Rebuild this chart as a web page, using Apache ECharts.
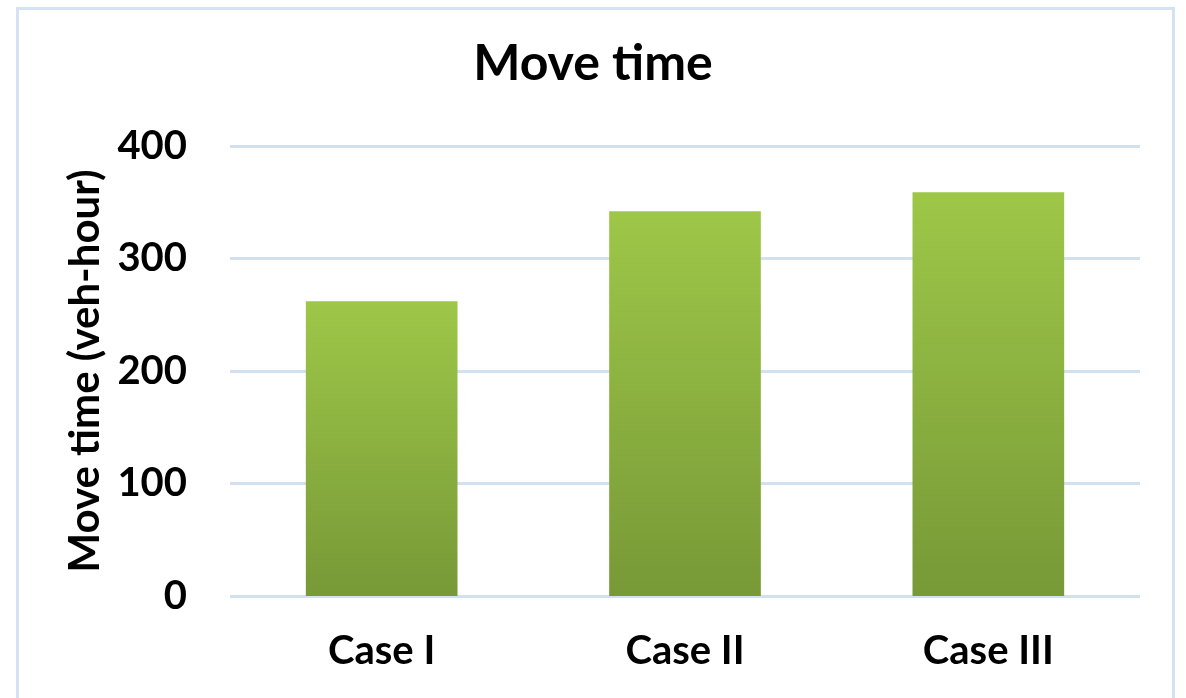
<!DOCTYPE html>
<html>
<head>
<meta charset="utf-8">
<script src="https://cdn.jsdelivr.net/npm/echarts@6/dist/echarts.min.js"></script>
<style>
html,body{margin:0;padding:0;background:#fff;}
#chart{width:1186px;height:698px;}
</style>
</head>
<body>
<div id="chart"></div>
<script>
const categories = ['Case I', 'Case II', 'Case III'];
const moveTime = [262, 342, 359];
const yTicks = [0, 100, 200, 300, 400];

const FONT = 'Lato';
const chart = echarts.init(document.getElementById('chart'));
chart.setOption({
  backgroundColor: '#ffffff',
  animation: false,
  graphic: [{
    type: 'rect',
    shape: { x: 17.5, y: 8.5, width: 1156, height: 720 },
    style: { fill: 'none', stroke: '#d5e2f3', lineWidth: 3 },
    silent: true
  }],
  title: {
    text: 'Move time',
    left: 'center',
    top: 34,
    textStyle: { fontFamily: FONT, fontWeight: 'bold', fontSize: 50, color: '#000' }
  },
  grid: { left: 230, right: 46, top: 146, bottom: 102, containLabel: false },
  xAxis: {
    type: 'category',
    data: categories,
    axisLine: { show: false },
    axisTick: { show: false },
    axisLabel: { fontFamily: FONT, fontWeight: 'bold', fontSize: 40, color: '#000', margin: 35 }
  },
  yAxis: {
    type: 'value',
    min: yTicks[0],
    max: yTicks[yTicks.length - 1],
    interval: 100,
    name: 'Move time (veh-hour)',
    nameLocation: 'middle',
    nameGap: 123,
    nameTextStyle: { fontFamily: FONT, fontWeight: 'bold', fontSize: 42, color: '#000' },
    axisLine: { show: false },
    axisTick: { show: false },
    axisLabel: { fontFamily: FONT, fontWeight: 'bold', fontSize: 40, color: '#000', margin: 43 },
    splitLine: { lineStyle: { color: '#d3e0f0', width: 3 } }
  },
  series: [{
    type: 'bar',
    data: moveTime,
    barWidth: '50%',
    itemStyle: {
      color: new echarts.graphic.LinearGradient(0, 0, 0, 1, [
        { offset: 0, color: '#9ec748' },
        { offset: 1, color: '#779937' }
      ])
    }
  }]
});
</script>
</body>
</html>
